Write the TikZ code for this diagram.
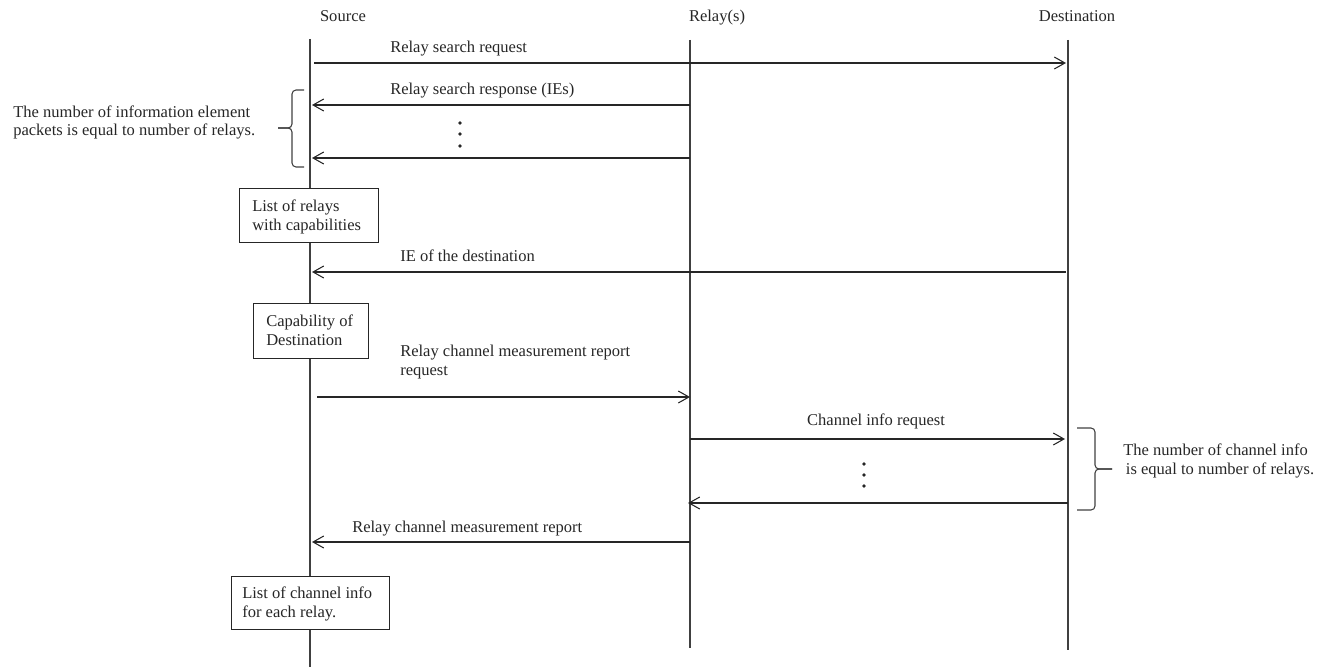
\documentclass[tikz,border=0pt]{standalone}
\usepackage{fontspec}
\setmainfont{Liberation Serif}
\usetikzlibrary{arrows.meta}
\begin{document}
\begin{tikzpicture}[x=0.75pt,y=-0.75pt,
  every node/.style={font=\fontsize{12.4}{14.2}\selectfont, inner sep=0pt, text=black!85},
  lifeline/.style={draw=black!75, line width=0.9pt},
  msg/.style={draw=black!85, line width=0.8pt, -{Straight Barb[length=8pt,width=9pt,line width=0.8pt]}},
  lbl/.style={anchor=base west, align=left},
  notebox/.style={draw=black!85, line width=1pt, fill=white, anchor=north west, inner sep=0pt},
  brace/.style={draw=black!75, line width=0.8pt, rounded corners=3pt},
  dot/.style={fill=black!85, circle, inner sep=0pt, minimum size=2.8pt, draw=none}]
\useasboundingbox (0,0) rectangle (1328,667);

% headers
\node[anchor=base] (hS) at (343,22) {Source};
\node[anchor=base] (hR) at (717,22) {Relay(s)};
\node[anchor=base] (hD) at (1077,22) {Destination};

% lifelines
\coordinate (S0) at (310,39); \coordinate (S1) at (310,667);
\coordinate (R0) at (690,40); \coordinate (R1) at (690,648);
\coordinate (D0) at (1068,40); \coordinate (D1) at (1068,650);
\draw[lifeline] (S0) -- (S1);
\draw[lifeline] (R0) -- (R1);
\draw[lifeline] (D0) -- (D1);

% message 1
\coordinate (m1a) at (314,63); \coordinate (m1b) at (1066,63);
\draw[msg] (m1a) -- (m1b);
\node[lbl] (l1) at (390,53) {Relay search request};

% message 2
\coordinate (m2a) at (690,105); \coordinate (m2b) at (312,105);
\draw[msg] (m2a) -- (m2b);
\node[lbl] (l2) at (390,94) {Relay search response (IEs)};

\node[dot] (d1) at (460,123) {};
\node[dot] (d2) at (460,134) {};
\node[dot] (d3) at (460,146) {};

% message 3
\coordinate (m3a) at (690,158); \coordinate (m3b) at (312,158);
\draw[msg] (m3a) -- (m3b);

% left brace
\coordinate (b1t) at (304,90); \coordinate (b1tip) at (278,128); \coordinate (b1b) at (304,167);
\draw[brace] (b1t) -- (292,90) -- (292,128) -- (b1tip);
\draw[brace] (b1tip) -- (292,128) -- (292,167) -- (b1b);
\node[lbl] (n1) at (13,136) {The number of information element\\packets is equal to number of relays.};

% box 1
\node[notebox, minimum width=139*0.75pt, minimum height=54*0.75pt] (box1) at (239,188) {};
\node[lbl] (box1t) at (252,230) {List of relays\\with capabilities};

% message 4
\coordinate (m4a) at (1066,272); \coordinate (m4b) at (312,272);
\draw[msg] (m4a) -- (m4b);
\node[lbl] (l4) at (400,261) {IE of the destination};

% box 2
\node[notebox, minimum width=115*0.75pt, minimum height=55*0.75pt] (box2) at (253,303) {};
\node[lbl] (box2t) at (266,345) {Capability of\\Destination};

% message 5
\coordinate (m5a) at (317,397); \coordinate (m5b) at (690,397);
\draw[msg] (m5a) -- (m5b);
\node[lbl] (l5) at (400,375) {Relay channel measurement report\\request};

% message 6
\coordinate (m6a) at (690,439); \coordinate (m6b) at (1065,439);
\draw[msg] (m6a) -- (m6b);
\node[anchor=base] (l6) at (876,425) {Channel info request};

\node[dot] (e1) at (864,464) {};
\node[dot] (e2) at (864,475) {};
\node[dot] (e3) at (864,486) {};

% message 7
\coordinate (m7a) at (1068,503); \coordinate (m7b) at (688,503);
\draw[msg] (m7a) -- (m7b);

% right brace
\coordinate (b2t) at (1077,428); \coordinate (b2tip) at (1112,469); \coordinate (b2b) at (1077,510);
\draw[brace] (b2t) -- (1095,428) -- (1095,469) -- (b2tip);
\draw[brace] (b2tip) -- (1095,469) -- (1095,510) -- (b2b);
\node[lbl] (n2) at (1123,474) {The number of channel info\\\hspace*{2pt}is equal to number of relays.};

% message 8
\coordinate (m8a) at (690,542); \coordinate (m8b) at (312,542);
\draw[msg] (m8a) -- (m8b);
\node[lbl] (l8) at (352,532) {Relay channel measurement report};

% box 3
\node[notebox, minimum width=158*0.75pt, minimum height=53*0.75pt] (box3) at (231,576) {};
\node[lbl] (box3t) at (242,617) {List of channel info\\for each relay.};
\end{tikzpicture}
\end{document}
